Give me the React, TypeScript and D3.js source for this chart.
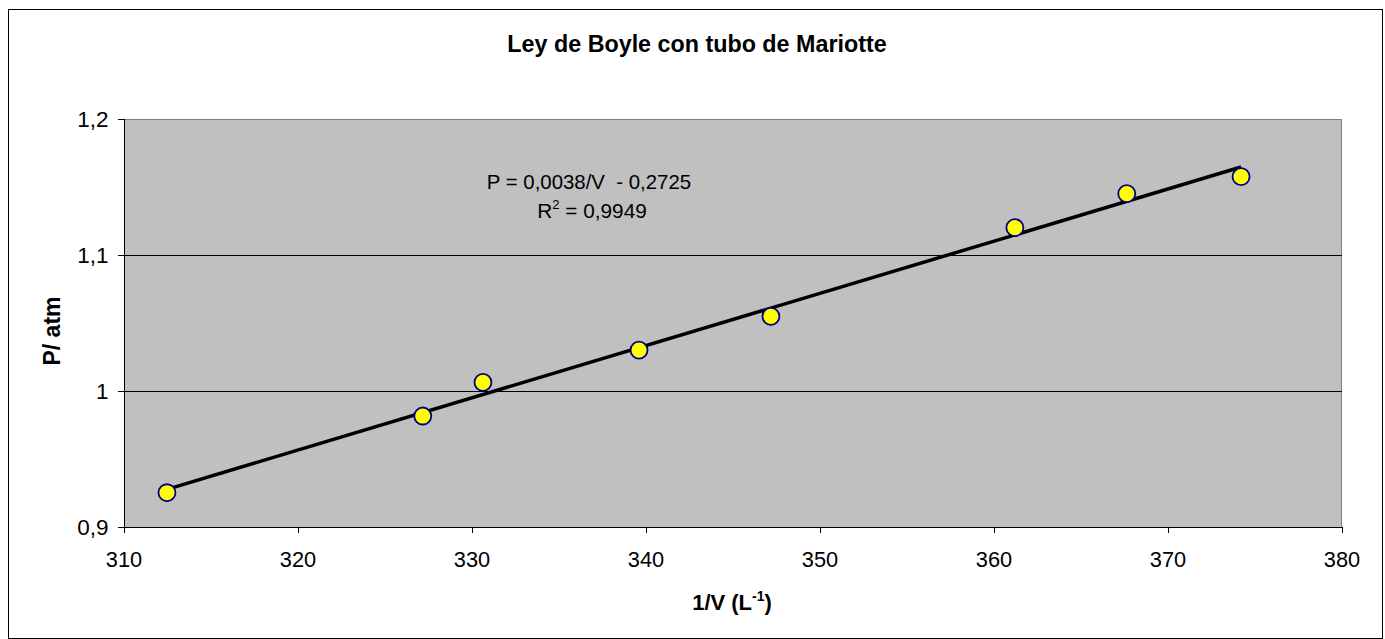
import React from "react";
import * as d3 from "d3";

const invV: number[] = [312.47, 327.17, 330.63, 339.6, 347.18, 361.2, 367.63, 374.2];
const pressure: number[] = [0.9252, 0.9816, 1.0064, 1.0301, 1.0549, 1.1201, 1.1451, 1.1576];
const xTicks: number[] = [310, 320, 330, 340, 350, 360, 370, 380];
const yTicks: number[] = [0.9, 1.0, 1.1, 1.2];
const yTickLabels: string[] = ["0,9", "1", "1,1", "1,2"];
const title = "Ley de Boyle con tubo de Mariotte";
const eqLine1 = "P = 0,0038/V  - 0,2725";
const r2Value = " = 0,9949";

export default function App() {
  const W = 1385, H = 639;
  const left = 124, right = 1342, top = 119, bottom = 527;
  const x = d3.scaleLinear().domain([310, 380]).range([left, right]);
  const y = d3.scaleLinear().domain([0.9, 1.2]).range([bottom, top]);

  // least squares regression
  const mx = d3.mean(invV)!;
  const my = d3.mean(pressure)!;
  let sxy = 0, sxx = 0;
  invV.forEach((v, i) => { sxy += (v - mx) * (pressure[i] - my); sxx += (v - mx) * (v - mx); });
  const slope = sxy / sxx;
  const intercept = my - slope * mx;
  const [x0, x1] = d3.extent(invV) as [number, number];
  const trend = d3.line<number>().x(d => x(d)).y(d => y(slope * d + intercept))([x0, x1])!;

  const font = "Liberation Sans, Arial, sans-serif";
  return (
    <svg width={W} height={H} style={{ position: "absolute", left: 0, top: 0, fontFamily: font }}>
      <rect x={0} y={0} width={W} height={H} fill="#fff" />
      <rect x={8.5} y={9.5} width={1374} height={629} fill="#fff" stroke="#000" strokeWidth={1} />
      <text x={697} y={52} textAnchor="middle" fontSize={23.3} fontWeight="bold">{title}</text>
      <rect x={left} y={top} width={right - left} height={bottom - top} fill="#C0C0C0" />
      <line x1={left} x2={right} y1={top + 0.5} y2={top + 0.5} stroke="#808080" strokeWidth={1} />
      <line x1={right - 0.5} x2={right - 0.5} y1={top} y2={bottom} stroke="#808080" strokeWidth={1} />
      {yTicks.slice(1, 3).map(t => (
        <line key={t} x1={left} x2={right} y1={Math.round(y(t)) + 0.5} y2={Math.round(y(t)) + 0.5} stroke="#000" strokeWidth={1} />
      ))}
      {/* axes */}
      <line x1={left + 0.5} x2={left + 0.5} y1={top} y2={bottom + 1} stroke="#000" strokeWidth={1} />
      <line x1={left} x2={right} y1={bottom + 0.5} y2={bottom + 0.5} stroke="#000" strokeWidth={1} />
      {yTicks.map((t, i) => (
        <g key={t}>
          <line x1={left - 6} x2={left} y1={Math.round(y(t)) + 0.5} y2={Math.round(y(t)) + 0.5} stroke="#000" />
          <text x={108.5} y={y(t) + 7.5} textAnchor="end" fontSize={22.5}>{yTickLabels[i]}</text>
        </g>
      ))}
      {xTicks.map(t => (
        <g key={t}>
          <line x1={Math.round(x(t)) + 0.5} x2={Math.round(x(t)) + 0.5} y1={bottom} y2={bottom + 6} stroke="#000" />
          <text x={x(t)} y={567} textAnchor="middle" fontSize={21.8}>{t}</text>
        </g>
      ))}
      <path d={trend} stroke="#000" strokeWidth={3.5} fill="none" />
      {invV.map((v, i) => (
        <circle key={i} cx={x(v)} cy={y(pressure[i])} r={8.5} fill="#FFFF00" stroke="#000080" strokeWidth={1.8} />
      ))}
      <text x={589} y={188.5} textAnchor="middle" fontSize={20.4} style={{ whiteSpace: "pre" }}>{eqLine1}</text>
      <text x={592} y={218} textAnchor="middle" fontSize={20.8}>
        R<tspan fontSize={13} dy={-9}>2</tspan><tspan dy={9}>{r2Value}</tspan>
      </text>
      <text transform={`translate(60,331) rotate(-90)`} textAnchor="middle" fontSize={23} fontWeight="bold">P/ atm</text>
      <text x={732} y={610} textAnchor="middle" fontSize={22} fontWeight="bold">
        1/V (L<tspan fontSize={14} dy={-9}>-1</tspan><tspan dy={9}>)</tspan>
      </text>
    </svg>
  );
}
